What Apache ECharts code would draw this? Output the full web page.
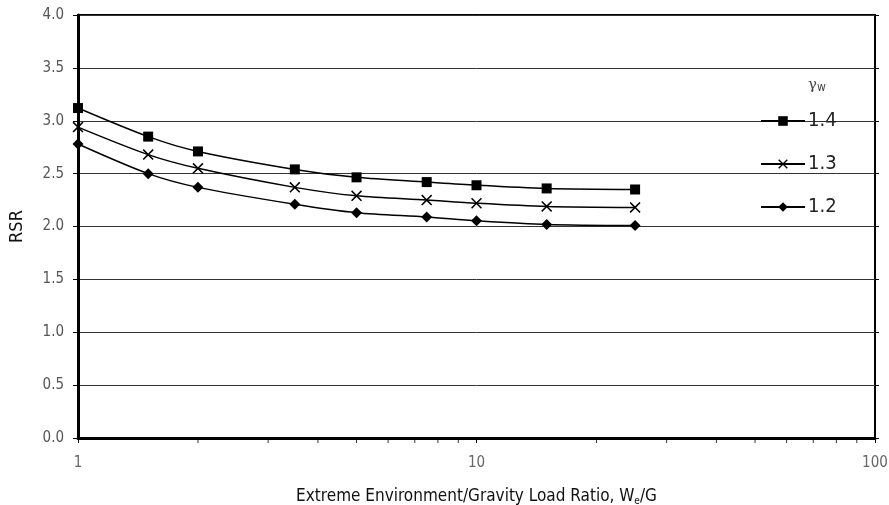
<!DOCTYPE html>
<html><head><meta charset="utf-8">
<script src="https://cdn.jsdelivr.net/npm/echarts@6/dist/echarts.min.js"></script>
<style>html,body{margin:0;padding:0;background:#fff}#c{width:889px;height:505px}</style>
</head><body><div id="c"></div>
<script>
const xValues = [1, 1.5, 2, 3.5, 5, 7.5, 10, 15, 25];
const seriesNames = ['1.4', '1.3', '1.2'];
const rsr14 = [3.12, 2.85, 2.71, 2.54, 2.465, 2.42, 2.39, 2.36, 2.35];
const rsr13 = [2.94, 2.68, 2.55, 2.37, 2.29, 2.25, 2.22, 2.19, 2.18];
const rsr12 = [2.78, 2.50, 2.37, 2.21, 2.13, 2.09, 2.055, 2.02, 2.01];
const minorTickValues = [2,3,4,5,6,7,8,9,20,30,40,50,60,70,80,90];

const font = '"DejaVu Sans Condensed","Liberation Sans Narrow","Liberation Sans",Arial,sans-serif';
const crossPath = 'path://M0,1 L1,0 L5,4 L9,0 L10,1 L6,5 L10,9 L9,10 L5,6 L1,10 L0,9 L4,5 Z';
function pairs(ys){ return xValues.map((x,i)=>[x, ys[i]]); }
function lineSeries(name, ys, symbol, size){
  return {
    name, type:'line', data:pairs(ys), smooth:0.3,
    symbol, symbolSize:size, showSymbol:true,
    lineStyle:{color:'#000', width:1.5},
    itemStyle:{color:'#000', borderColor:'#000', borderWidth:0},
    emphasis:{disabled:true}, z:3
  };
}
const chart = echarts.init(document.getElementById('c'));
chart.setOption({
  animation:false,
  backgroundColor:'#fff',
  grid:{left:78, right:14, top:15, bottom:67, show:true, borderColor:'#000', borderWidth:2,
        containLabel:false, outerBoundsMode:'none'},
  xAxis:[{
    type:'log', logBase:10, min:1, max:100,
    name:'Extreme Environment/Gravity Load Ratio, {w|W}{s|e}{w|/G}',
    nameLocation:'middle', nameGap:50,
    nameTextStyle:{fontFamily:font, fontSize:17, color:'#111',
      rich:{w:{fontFamily:font, fontSize:17, color:'#111'}, s:{fontFamily:font, fontSize:10, color:'#111', padding:[8,0,0,0]}}},
    axisLine:{show:true, lineStyle:{color:'#000', width:3}},
    axisTick:{show:true, length:5, lineStyle:{color:'#000'}},
    axisLabel:{fontFamily:font, fontSize:15, color:'#666', margin:18},
    splitLine:{show:false}
  }],
  yAxis:[{
    type:'value', min:0, max:4, interval:0.5,
    name:'RSR', nameLocation:'middle', nameGap:52, nameRotate:90,
    nameTextStyle:{fontFamily:font, fontSize:18, color:'#111'},
    axisLine:{show:true, lineStyle:{color:'#000', width:3}},
    axisTick:{show:true, length:5, lineStyle:{color:'#000'}},
    axisLabel:{fontFamily:font, fontSize:15, color:'#555', margin:14, formatter:v=>v.toFixed(1)},
    splitLine:{show:true, lineStyle:{color:'#333', width:1}}
  },{
    type:'value', min:0, max:4, interval:0.5, position:'right',
    axisLine:{show:false}, axisTick:{show:true, length:4, lineStyle:{color:'#000'}},
    axisLabel:{show:false}, splitLine:{show:false}
  }],
  legend:{
    data:seriesNames, orient:'vertical', left:755, top:106,
    itemWidth:44, itemHeight:12, itemGap:23,
    textStyle:{fontFamily:font, fontSize:20, color:'#222', padding:[0,0,0,-2]},
    selectedMode:false
  },
  graphic:[{
    type:'text', left:808, top:78,
    style:{text:'{g|γ}{w|w}', rich:{g:{fontFamily:'"DejaVu Serif",serif', fontSize:15, fill:'#444'}, w:{fontFamily:font, fontSize:12, fill:'#444', padding:[4,0,0,0]}}}
  }],
  series:[
    lineSeries(seriesNames[0], rsr14, 'rect', 10),
    lineSeries(seriesNames[1], rsr13, crossPath, 11),
    lineSeries(seriesNames[2], rsr12, 'diamond', 11),
    {
      type:'scatter', data:minorTickValues.map(v=>[v,0]), symbol:'rect', symbolSize:[1,4],
      symbolOffset:[0,3], itemStyle:{color:'#000'}, silent:true, z:1, legendHoverLink:false,
      clip:false
    }
  ]
});
</script></body></html>
